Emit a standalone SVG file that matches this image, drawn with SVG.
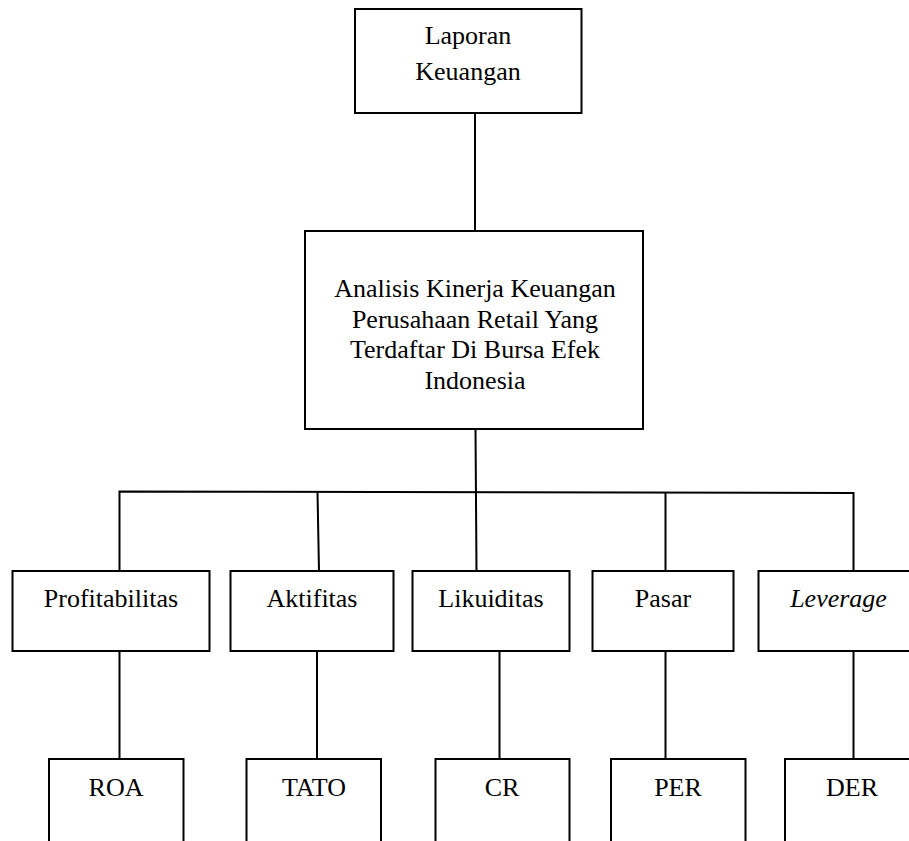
<svg xmlns="http://www.w3.org/2000/svg" width="909" height="841" viewBox="0 0 909 841">
<style>
.box{fill:#fff;stroke:#000;stroke-width:2}
.ln{fill:none;stroke:#000;stroke-width:2}
text{font-family:"Liberation Serif","Times New Roman",serif;font-size:26px;fill:#000;text-anchor:middle}
.it{font-style:italic}
</style>
<rect width="909" height="841" fill="#fff"/>
<g id="connectors">
<line class="ln" x1="475" y1="113" x2="475" y2="231"/>
<line class="ln" x1="475.5" y1="429" x2="476.5" y2="571"/>
<polyline class="ln" points="119.5,571 119.5,491.5 853.5,493 853.5,571"/>
<line class="ln" x1="317.5" y1="492" x2="319" y2="571"/>
<line class="ln" x1="665.5" y1="493" x2="665.5" y2="571"/>
<line class="ln" x1="119.5" y1="651" x2="119.5" y2="759"/>
<line class="ln" x1="317" y1="651" x2="317" y2="759"/>
<line class="ln" x1="499.5" y1="651" x2="499.5" y2="759"/>
<line class="ln" x1="665.5" y1="651" x2="665.5" y2="759"/>
<line class="ln" x1="853.5" y1="651" x2="853.5" y2="759"/>
</g>
<g id="laporan">
<rect class="box" x="355" y="9" width="226.5" height="104"/>
<text x="468" y="44">Laporan</text>
<text x="468" y="80">Keuangan</text>
</g>
<g id="analisis">
<rect class="box" x="305" y="231" width="338" height="198"/>
<text x="475" y="297">Analisis Kinerja Keuangan</text>
<text x="475" y="328">Perusahaan Retail Yang</text>
<text x="475" y="358">Terdaftar Di Bursa Efek</text>
<text x="475" y="389">Indonesia</text>
</g>
<g id="profitabilitas">
<rect class="box" x="12.5" y="571" width="197" height="80"/>
<text x="111" y="607">Profitabilitas</text>
</g>
<g id="aktifitas">
<rect class="box" x="230.5" y="571" width="163" height="80"/>
<text x="312" y="607">Aktifitas</text>
</g>
<g id="likuiditas">
<rect class="box" x="412.5" y="571" width="157" height="80"/>
<text x="491" y="607">Likuiditas</text>
</g>
<g id="pasar">
<rect class="box" x="592.5" y="571" width="141" height="80"/>
<text x="663" y="607">Pasar</text>
</g>
<g id="leverage">
<rect class="box" x="758.5" y="571" width="170" height="80"/>
<text class="it" x="838.5" y="607">Leverage</text>
</g>
<g id="roa">
<rect class="box" x="49" y="759" width="134.5" height="100"/>
<text x="116" y="796">ROA</text>
</g>
<g id="tato">
<rect class="box" x="246.5" y="759" width="134.5" height="100"/>
<text x="314" y="796">TATO</text>
</g>
<g id="cr">
<rect class="box" x="435.5" y="759" width="134" height="100"/>
<text x="502" y="796">CR</text>
</g>
<g id="per">
<rect class="box" x="611" y="759" width="134.5" height="100"/>
<text x="678" y="796">PER</text>
</g>
<g id="der">
<rect class="box" x="785" y="759" width="150" height="100"/>
<text x="852" y="796">DER</text>
</g>
</svg>
